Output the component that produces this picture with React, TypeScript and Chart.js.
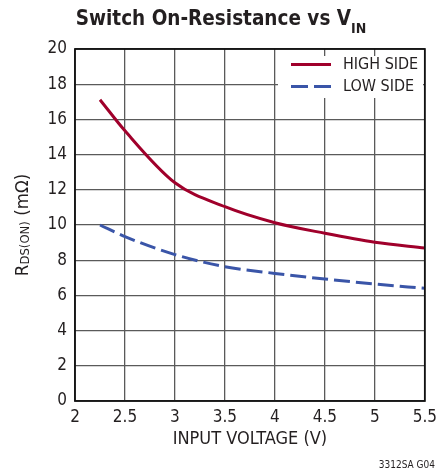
import React, { useEffect, useRef } from "react";
import { Chart, registerables } from "chart.js";

Chart.register(...registerables);

// Input voltage samples (V)
const vin = [2.25, 2.5, 3, 3.5, 4, 4.5, 5, 5.5];
// On-resistance (mΩ) for each switch
const highSide = [17.12, 15.35, 12.4, 11.04, 10.13, 9.53, 9.02, 8.69];
const lowSide = [10.0, 9.34, 8.32, 7.63, 7.25, 6.93, 6.65, 6.4];

const xTicks = [2, 2.5, 3, 3.5, 4, 4.5, 5, 5.5];
const yTicks = [0, 2, 4, 6, 8, 10, 12, 14, 16, 18, 20];

const seriesNames = ["HIGH SIDE", "LOW SIDE"];
const HIGH_COLOR = "#a0002b";
const LOW_COLOR = "#3a55a8";
const LOW_DASH = [16, 6];

const FONT = "'Liberation Sans Narrow', 'DejaVu Sans Condensed', 'Roboto Condensed', sans-serif";

const decorations = {
  id: "decorations",
  beforeDatasetsDraw(chart: any) {
    const { ctx } = chart;
    ctx.save();
    // legend box sits over the grid
    const bx = 278, by = 56, bw = 145, bh = 42;
    ctx.fillStyle = "#ffffff";
    ctx.fillRect(bx, by, bw, bh);
    ctx.lineWidth = 3;
    ctx.lineCap = "butt";
    ctx.strokeStyle = HIGH_COLOR;
    ctx.beginPath();
    ctx.moveTo(291, 64.5);
    ctx.lineTo(331, 64.5);
    ctx.stroke();
    ctx.strokeStyle = LOW_COLOR;
    ctx.setLineDash([17, 6]);
    ctx.beginPath();
    ctx.moveTo(291, 86.5);
    ctx.lineTo(331, 86.5);
    ctx.stroke();
    ctx.setLineDash([]);
    ctx.fillStyle = "#231f20";
    ctx.font = `16px ${FONT}`;
    ctx.textBaseline = "middle";
    ctx.textAlign = "left";
    ctx.fillText(seriesNames[0], 343, 65);
    ctx.fillText(seriesNames[1], 343, 87);
    ctx.restore();
  },
  afterDatasetsDraw(chart: any) {
    const { ctx, chartArea } = chart;
    ctx.save();
    ctx.strokeStyle = "#111";
    ctx.lineWidth = 1.8;
    ctx.strokeRect(chartArea.left, chartArea.top, chartArea.right - chartArea.left, chartArea.bottom - chartArea.top);
    ctx.restore();
  },
  afterDraw(chart: any) {
    const { ctx, chartArea } = chart;
    ctx.save();
    ctx.fillStyle = "#231f20";
    // title with subscript
    ctx.textBaseline = "alphabetic";
    ctx.textAlign = "left";
    const main = "Switch On-Resistance vs V";
    ctx.font = `bold 20.5px ${FONT}`;
    const mw = ctx.measureText(main).width;
    ctx.font = `bold 14px ${FONT}`;
    const sw = ctx.measureText("IN").width;
    const tx = 221 - (mw + sw) / 2;
    ctx.font = `bold 20.5px ${FONT}`;
    ctx.fillText(main, tx, 25);
    ctx.font = `bold 14px ${FONT}`;
    ctx.fillText("IN", tx + mw, 33);

    // y axis title: R_DS(ON) (mΩ)
    const cy = (chartArea.top + chartArea.bottom) / 2;
    ctx.translate(28, cy);
    ctx.rotate(-Math.PI / 2);
    const big = `18.5px ${FONT}`;
    const small = `13px ${FONT}`;
    ctx.font = big;
    const w1 = ctx.measureText("R").width;
    const w3 = ctx.measureText(" (mΩ)").width;
    ctx.font = small;
    const w2 = ctx.measureText("DS(ON)").width;
    const x0 = -(w1 + w2 + w3) / 2;
    ctx.font = big;
    ctx.fillText("R", x0, 0);
    ctx.font = small;
    ctx.fillText("DS(ON)", x0 + w1, 1);
    ctx.font = big;
    ctx.fillText(" (mΩ)", x0 + w1 + w2, 0);
    ctx.setTransform(1, 0, 0, 1, 0, 0);

    // figure code
    ctx.font = `10px ${FONT}`;
    ctx.textAlign = "right";
    ctx.fillText("3312SA G04", 435, 468);
    ctx.restore();
  },
};

export default function App() {
  const ref = useRef<HTMLCanvasElement>(null);
  useEffect(() => {
    if (!ref.current) return;
    const chart = new Chart(ref.current, {
      type: "line",
      data: {
        datasets: [
          {
            label: seriesNames[0],
            data: vin.map((v, i) => ({ x: v, y: highSide[i] })),
            borderColor: HIGH_COLOR,
            borderWidth: 3,
            pointRadius: 0,
            cubicInterpolationMode: "monotone",
            fill: false,
          },
          {
            label: seriesNames[1],
            data: vin.map((v, i) => ({ x: v, y: lowSide[i] })),
            borderColor: LOW_COLOR,
            borderWidth: 3,
            borderDash: LOW_DASH,
            pointRadius: 0,
            cubicInterpolationMode: "monotone",
            fill: false,
          },
        ],
      },
      options: {
        responsive: false,
        animation: false,
        layout: { padding: { top: 49, right: 16, left: 0, bottom: 0 } },
        plugins: { legend: { display: false }, tooltip: { enabled: false } },
        scales: {
          x: {
            type: "linear",
            min: 2,
            max: 5.5,
            afterFit: (s: any) => { s.height = 70; },
            afterBuildTicks: (s: any) => { s.ticks = xTicks.map((v) => ({ value: v })); },
            ticks: {
              color: "#231f20",
              font: { family: FONT, size: 17 },
              padding: 6,
              maxRotation: 0,
              callback: (v: any) => String(v),
            },
            grid: { color: "#5a5a5a", lineWidth: 1.3, drawTicks: false },
            border: { display: false },
            title: {
              display: true,
              text: "INPUT VOLTAGE (V)",
              color: "#231f20",
              font: { family: FONT, size: 18 },
              padding: { top: 2, bottom: 21 },
            },
          },
          y: {
            min: 0,
            max: 20,
            afterFit: (s: any) => { s.width = 75; },
            afterBuildTicks: (s: any) => { s.ticks = yTicks.map((v) => ({ value: v })); },
            ticks: {
              color: "#231f20",
              font: { family: FONT, size: 17 },
              padding: 8,
              callback: (v: any) => String(v),
            },
            grid: { color: "#5a5a5a", lineWidth: 1.3, drawTicks: false },
            border: { display: false },
          },
        },
      },
      plugins: [decorations],
    });
    return () => chart.destroy();
  }, []);
  return (
    <div style={{ position: "fixed", left: 0, top: 0, width: 443, height: 471, background: "#fff" }}>
      <canvas ref={ref} width={443} height={471} style={{ display: "block" }} />
    </div>
  );
}
